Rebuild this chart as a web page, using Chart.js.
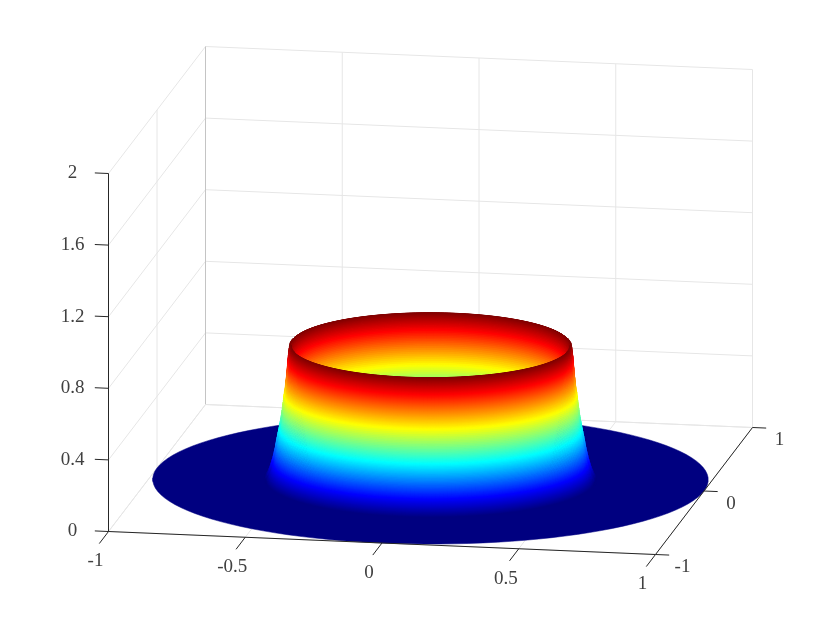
<!DOCTYPE html>
<html>
  <head>
    <meta charset="UTF-8">
    <title>Ring surface</title>
    <script src="https://cdn.jsdelivr.net/npm/chart.js"></script>
    <style>
      body { margin: 0; background: white; }
      canvas { display: block; }
    </style>
  </head>
  <body>
    <canvas id="myChart" width="830" height="623"></canvas>

    <script>
      // radial profile of the surface (flat z=0 elsewhere out to r=1)
      const radii = [0.400, 0.410, 0.416, 0.421, 0.426, 0.431, 0.436, 0.441, 0.445, 0.449, 0.453, 0.457,
        0.461, 0.465, 0.469, 0.473, 0.477, 0.481, 0.485, 0.489, 0.493, 0.497, 0.501, 0.503,
        0.506, 0.508, 0.510, 0.511, 0.512, 0.513, 0.514, 0.515, 0.516, 0.517, 0.518, 0.520, 0.521, 0.523, 0.525, 0.527,
        0.530, 0.533, 0.536, 0.539, 0.542, 0.545, 0.548, 0.551, 0.554, 0.557, 0.560, 0.563, 0.566, 0.569,
        0.572, 0.575, 0.578, 0.582, 0.586, 0.590, 0.594, 0.598];
      const heights = [0, 0.012, 0.03, 0.05, 0.075, 0.105, 0.14, 0.18, 0.22, 0.26, 0.30, 0.34,
        0.385, 0.43, 0.47, 0.51, 0.55, 0.59, 0.625, 0.66, 0.69, 0.715, 0.735, 0.75,
        0.745, 0.73, 0.71, 0.695, 0.68, 0.665, 0.645, 0.63, 0.61, 0.59, 0.57, 0.55, 0.53, 0.505, 0.485, 0.47,
        0.43, 0.395, 0.36, 0.33, 0.305, 0.28, 0.255, 0.235, 0.21, 0.185, 0.16, 0.14, 0.12, 0.10,
        0.085, 0.07, 0.055, 0.04, 0.025, 0.015, 0.005, 0];
      const xTicks = [-1, -0.5, 0, 0.5, 1];
      const yTicks = [-1, 0, 1];
      const zTicks = [0, 0.4, 0.8, 1.2, 1.6, 2];
      const xTickLabels = ["-1", "-0.5", "0", "0.5", "1"];
      const yTickLabels = ["-1", "0", "1"];
      const zTickLabels = ["0", "0.4", "0.8", "1.2", "1.6", "2"];

      const gridColor = "#e6e6e6";
      const axisColor = "#262626";
      const labelColor = "#404040";
      const zMax = 0.75;
      const sectors = 120;
      const shadeSteps = 4; // colour steps per mesh row, like interpolated shading

      // orthographic view of the box, in the page's own units
      function project(x, y, z) {
        return {
          x: 430.5 + 273.5 * x + 48.5 * y,
          y: 479.5 + 11.5 * x - 63.5 * y - 179 * z
        };
      }

      function jet(t) {
        const c = v => Math.round(255 * Math.min(1, Math.max(0, v)));
        return `rgb(${c(1.5 - Math.abs(4 * t - 3))},${c(1.5 - Math.abs(4 * t - 2))},${c(1.5 - Math.abs(4 * t - 1))})`;
      }

      function line(points, color, width) {
        return {
          data: points,
          showLine: true,
          borderColor: color,
          borderWidth: width,
          pointRadius: 0,
          fill: false
        };
      }

      function polygon(points, color, width) {
        return {
          data: points,
          showLine: true,
          borderColor: color,
          backgroundColor: color,
          borderWidth: width,
          pointRadius: 0,
          fill: "shape"
        };
      }

      // paint order: first pushed ends up at the bottom
      const layers = [];
      const gridLine = (a, b, color) => layers.push(line([project(...a), project(...b)], color || gridColor, 1));

      // back wall and left wall
      zTicks.forEach(z => {
        gridLine([-1, 1, z], [1, 1, z]);
        gridLine([-1, -1, z], [-1, 1, z]);
      });
      xTicks.forEach(x => gridLine([x, 1, 0], [x, 1, 2]));
      gridLine([-1, 1, 0], [-1, 1, 2], "#c4c4c4");
      gridLine([-1, 0, 0], [-1, 0, 2]);
      // floor
      xTicks.forEach(x => gridLine([x, -1, 0], [x, 1, 0]));
      yTicks.forEach(y => gridLine([-1, y, 0], [1, y, 0]));

      // flat disc
      const ringPoints = (r, z, from, to) => {
        const pts = [];
        for (let i = 0; i <= sectors; i++) {
          const a = from + (to - from) * i / sectors;
          pts.push(project(r * Math.cos(a), r * Math.sin(a), z));
        }
        return pts;
      };
      layers.push(polygon(ringPoints(1, 0, 0, 2 * Math.PI), jet(0), 0.5));

      // one mesh row of the wall, shaded in a few steps between its two edges
      const band = (i, from, to, outward) => {
        for (let k = 0; k < shadeSteps; k++) {
          const s = (outward ? k : shadeSteps - 1 - k) / shadeSteps;
          const e = s + 1 / shadeSteps;
          const r0 = radii[i] + (radii[i + 1] - radii[i]) * s;
          const r1 = radii[i] + (radii[i + 1] - radii[i]) * e;
          const z0 = heights[i] + (heights[i + 1] - heights[i]) * s;
          const z1 = heights[i] + (heights[i + 1] - heights[i]) * e;
          const pts = ringPoints(r1, z1, from, to).concat(ringPoints(r0, z0, from, to).reverse());
          pts.push(pts[0]);
          layers.push(polygon(pts, jet((z0 + z1) / 2 / zMax), 0.8));
        }
      };
      // far half from outside in, then near half from inside out
      const nearAngle = Math.atan2(-63.5, 11.5);
      for (let i = radii.length - 2; i >= 0; i--) {
        band(i, nearAngle + Math.PI / 2, nearAngle + 3 * Math.PI / 2, false);
      }
      for (let i = 0; i < radii.length - 1; i++) {
        band(i, nearAngle - Math.PI / 2, nearAngle + Math.PI / 2, true);
      }

      // axes and ticks
      gridLine([-1, -1, 0], [1, -1, 0], axisColor);
      gridLine([1, -1, 0], [1, 1, 0], axisColor);
      gridLine([-1, -1, 0], [-1, -1, 2], axisColor);
      xTicks.forEach(x => gridLine([x, -1, 0], [x, -1.19, 0], axisColor));
      yTicks.forEach(y => gridLine([1, y, 0], [1.05, y, 0], axisColor));
      zTicks.forEach(z => gridLine([-1, -1, z], [-1.05, -1, z], axisColor));

      const tickText = {
        id: "tickText",
        afterDraw(chart) {
          const ctx = chart.ctx;
          const sx = chart.scales.x;
          const sy = chart.scales.y;
          const put = (text, p, dx, dy) => ctx.fillText(text, sx.getPixelForValue(p.x) + dx, sy.getPixelForValue(p.y) + dy);
          ctx.save();
          ctx.font = "19px 'Liberation Serif'";
          ctx.fillStyle = labelColor;
          ctx.textAlign = "center";
          ctx.textBaseline = "middle";
          xTicks.forEach((x, i) => put(xTickLabels[i], project(x, -1, 0), -13, 30));
          yTicks.forEach((y, i) => put(yTickLabels[i], project(1, y, 0), 27, 13));
          zTicks.forEach((z, i) => put(zTickLabels[i], project(-1, -1, z), -36, 0));
          ctx.restore();
        }
      };

      new Chart(document.getElementById("myChart").getContext("2d"), {
        type: "scatter",
        // Chart.js paints the last dataset first
        data: { datasets: layers.reverse() },
        options: {
          responsive: false,
          animation: false,
          layout: { padding: 0 },
          elements: { line: { tension: 0 } },
          scales: {
            x: { type: "linear", display: false, min: 0, max: 830 },
            y: { type: "linear", display: false, min: 0, max: 623, reverse: true }
          },
          plugins: {
            legend: { display: false },
            tooltip: { enabled: false }
          }
        },
        plugins: [tickText]
      });
    </script>
  </body>
</html>
